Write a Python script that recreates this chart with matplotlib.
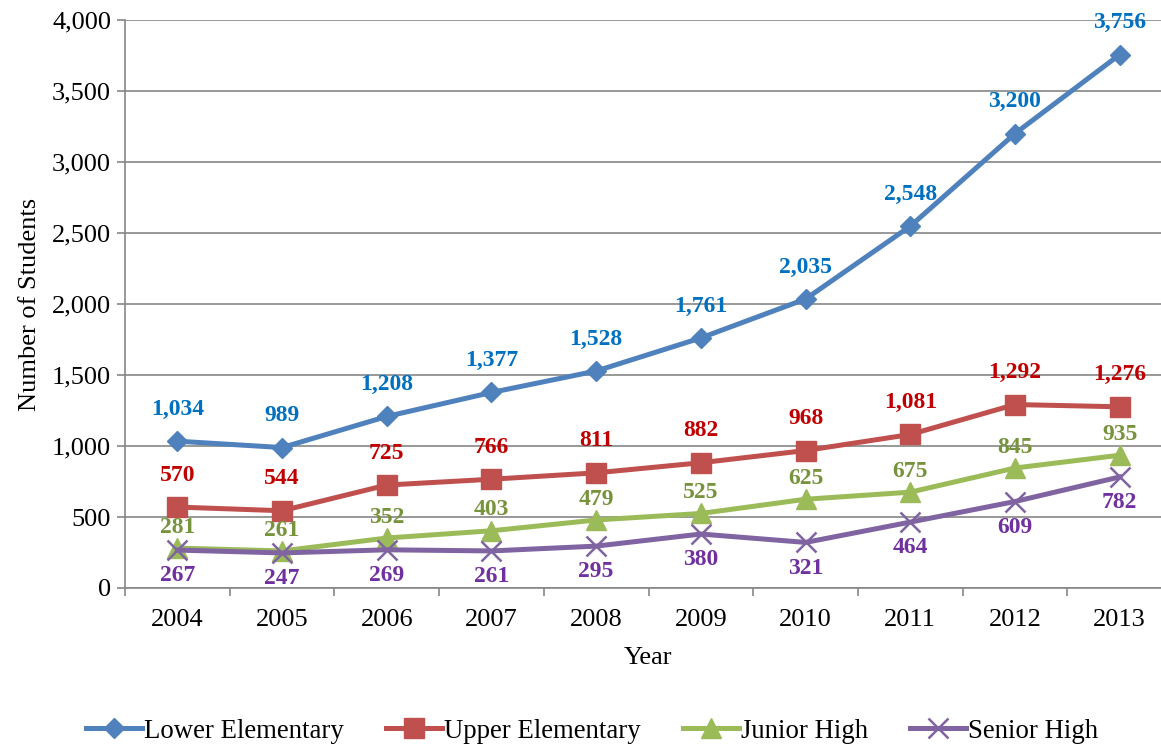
import matplotlib
matplotlib.use("Agg")
import matplotlib.pyplot as plt
from matplotlib.ticker import FuncFormatter, FixedLocator
import numpy as np

plt.rcParams['font.family'] = ['Liberation Serif', 'DejaVu Serif']

years = ["2004", "2005", "2006", "2007", "2008", "2009", "2010", "2011", "2012", "2013"]
lower_elem = [1034, 989, 1208, 1377, 1528, 1761, 2035, 2548, 3200, 3756]
upper_elem = [570, 544, 725, 766, 811, 882, 968, 1081, 1292, 1276]
junior_high = [281, 261, 352, 403, 479, 525, 625, 675, 845, 935]
senior_high = [267, 247, 269, 261, 295, 380, 321, 464, 609, 782]

series = [
    ("Lower Elementary", lower_elem, "#4F81BD", "D", 10.5, "#0070C0", 23),
    ("Upper Elementary", upper_elem, "#C0504D", "s", 14, "#C00000", 23),
    ("Junior High", junior_high, "#9BBB59", "^", 14, "#77933C", 15),
    ("Senior High", senior_high, "#8064A2", "x", 14, "#7030A0", -18.5),
]

fig = plt.figure(figsize=(11.61, 7.46), dpi=100)
ax = fig.add_axes([125/1161, 1-588/746, 1047/1161, 568/746])

x = np.arange(len(years))
for name, vals, col, mk, ms, lcol, off in series:
    ax.plot(x, vals, color=col, lw=3.6, marker=mk, markersize=ms,
            markeredgewidth=1.8 if mk == "x" else 1, markeredgecolor=col,
            markerfacecolor=col, label=name, zorder=3)
    for xi, v in zip(x, vals):
        ax.annotate(f"{v:,}", (xi, v), xytext=(0, off), textcoords="offset points",
                    ha="center", va="center", fontsize=17, fontweight="bold",
                    color=lcol, zorder=4)

ax.set_xlim(-0.5, 9.5)
ax.set_ylim(0, 4000)
ax.set_yticks(np.arange(0, 4001, 500))
ax.yaxis.set_major_formatter(FuncFormatter(lambda v, p: f"{int(v):,}"))
ax.set_xticks(x)
ax.set_xticklabels(years)
ax.xaxis.set_minor_locator(FixedLocator(np.arange(-0.5, 10, 1)))
ax.tick_params(axis="x", which="major", length=0, labelsize=19, pad=15)
ax.tick_params(axis="x", which="minor", length=6, color="#868686", width=1.2)
ax.tick_params(axis="y", length=6, color="#868686", width=1.2, labelsize=19, pad=4)
ax.grid(axis="y", color="#868686", lw=1.2, zorder=0)
ax.set_axisbelow(True)
for s in ["top", "right"]:
    ax.spines[s].set_visible(False)
for s in ["left", "bottom"]:
    ax.spines[s].set_color("#868686")
    ax.spines[s].set_linewidth(1.2)

ax.set_xlabel("Year", fontsize=19, labelpad=12)
ax.set_ylabel("Number of Students", fontsize=19, labelpad=8)

fig.legend(loc="center", bbox_to_anchor=(592/1161, 1-731/746), ncol=4, frameon=False,
           fontsize=19.3, handlelength=2.09, columnspacing=1.57, handletextpad=0.08)

fig.savefig("out.png", dpi=100)
